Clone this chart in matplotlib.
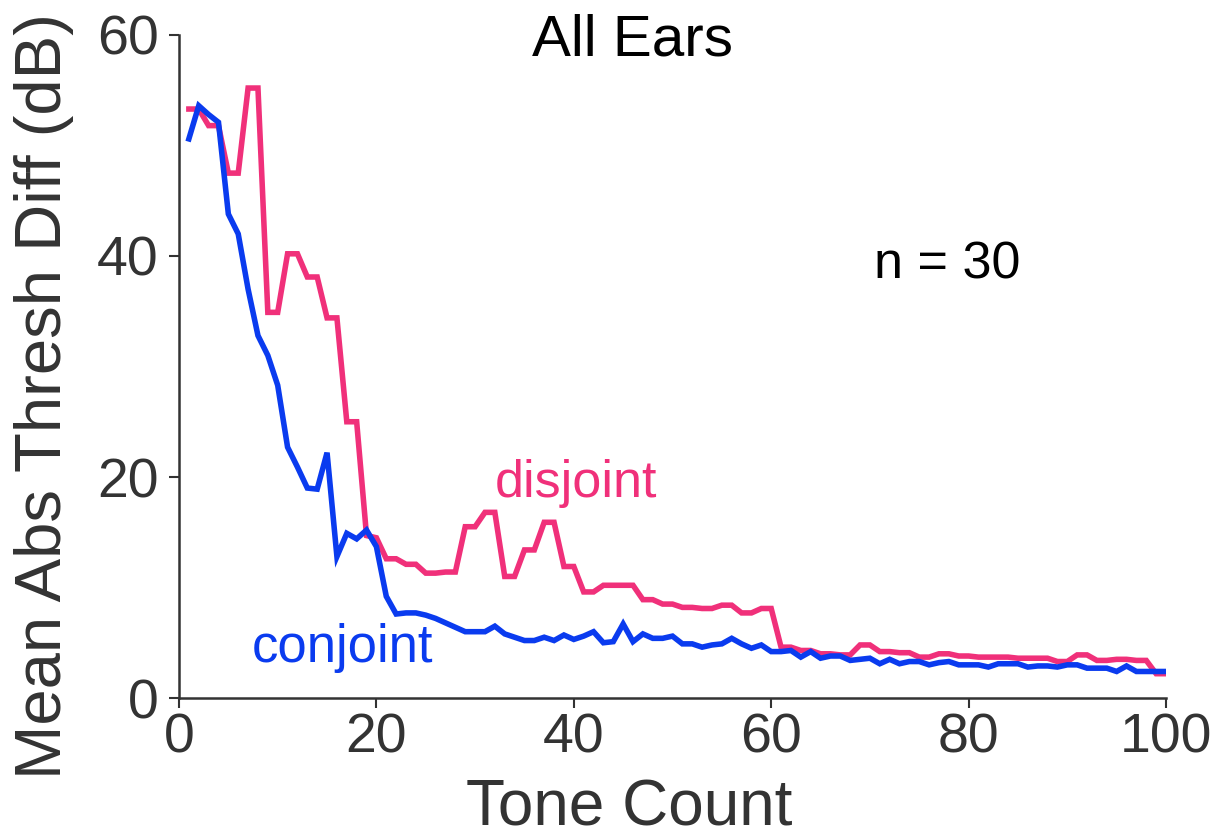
import matplotlib
matplotlib.use("Agg")
import matplotlib.pyplot as plt
import numpy as np

plt.rcParams['font.family'] = ['Liberation Sans', 'DejaVu Sans']

# Tone counts and mean absolute threshold differences (dB)
tone_count = np.arange(1, 101)

disjoint = [
    53.3, 53.3, 51.8, 51.8, 47.5, 47.5, 55.2, 55.2, 34.9, 34.9,
    40.2, 40.2, 38.1, 38.1, 34.4, 34.4, 25.0, 25.0, 14.7, 14.5,
    12.6, 12.6, 12.1, 12.1, 11.3, 11.3, 11.4, 11.4, 15.5, 15.5,
    16.8, 16.8, 11.0, 11.0, 13.4, 13.4, 15.9, 15.9, 11.9, 11.9,
    9.6, 9.6, 10.2, 10.2, 10.2, 10.2, 8.9, 8.9, 8.5, 8.5,
    8.2, 8.2, 8.1, 8.1, 8.4, 8.4, 7.7, 7.7, 8.1, 8.1,
    4.6, 4.6, 4.3, 4.3, 4.0, 4.0, 3.9, 3.9, 4.8, 4.8,
    4.2, 4.2, 4.1, 4.1, 3.7, 3.7, 4.0, 4.0, 3.8, 3.8,
    3.7, 3.7, 3.7, 3.7, 3.6, 3.6, 3.6, 3.6, 3.3, 3.3,
    3.9, 3.9, 3.4, 3.4, 3.5, 3.5, 3.4, 3.4, 2.2, 2.2,
]

conjoint = [
    50.6, 53.6, 52.8, 52.1, 43.8, 42.0, 37.0, 32.8, 31.0, 28.3,
    22.7, 20.9, 19.0, 18.9, 22.2, 12.8, 14.9, 14.4, 15.2, 13.7,
    9.2, 7.6, 7.7, 7.7, 7.5, 7.2, 6.8, 6.4, 6.0, 6.0,
    6.0, 6.5, 5.8, 5.5, 5.2, 5.2, 5.5, 5.2, 5.7, 5.3,
    5.6, 6.0, 5.0, 5.1, 6.7, 5.1, 5.8, 5.4, 5.4, 5.6,
    4.9, 4.9, 4.6, 4.8, 4.9, 5.4, 4.9, 4.5, 4.8, 4.2,
    4.2, 4.3, 3.7, 4.2, 3.6, 3.8, 3.8, 3.4, 3.5, 3.6,
    3.1, 3.5, 3.1, 3.3, 3.3, 3.0, 3.2, 3.3, 3.0, 3.0,
    3.0, 2.8, 3.1, 3.1, 3.1, 2.8, 2.9, 2.9, 2.8, 3.0,
    3.0, 2.7, 2.7, 2.7, 2.4, 2.9, 2.4, 2.4, 2.4, 2.4,
]

x_ticks = [0, 20, 40, 60, 80, 100]
y_ticks = [0, 20, 40, 60]

pink = "#F0307A"
blue = "#0A3BEF"
axis_gray = "#333333"

fig = plt.figure(figsize=(12.28, 8.38), dpi=100)
ax = fig.add_axes([179 / 1228, 1 - 698 / 838, 987 / 1228, 663 / 838])

ax.plot(tone_count, disjoint, color=pink, lw=4.0, solid_joinstyle='miter', zorder=2)
ax.plot(tone_count, conjoint, color=blue, lw=4.0, solid_joinstyle='miter', zorder=3)

ax.set_xlim(0, 100)
ax.set_ylim(0, 60)
ax.set_xticks(x_ticks)
ax.set_yticks(y_ticks)

for side in ("top", "right"):
    ax.spines[side].set_visible(False)
for side in ("left", "bottom"):
    ax.spines[side].set_color(axis_gray)
    ax.spines[side].set_linewidth(1.8)

ax.tick_params(axis='both', direction='out', length=7.5, width=1.5,
               color=axis_gray, labelcolor=axis_gray, labelsize=40)
ax.tick_params(axis='x', pad=3)
ax.tick_params(axis='y', pad=7)

ax.set_xlabel("Tone Count", fontsize=46, color=axis_gray, va='baseline')
ax.xaxis.set_label_coords(0.456, -0.192)
ax.set_ylabel("Mean Abs Thresh Diff (dB)", fontsize=47, color=axis_gray, va='center')
ax.yaxis.set_label_coords(-0.137, 0.456)

ax.text(45.9, 58.1, "All Ears", fontsize=42, color="black",
        ha='center', va='baseline', clip_on=False)
ax.text(77.8, 38.0, "n = 30", fontsize=37.5, color="black",
        ha='center', va='baseline')
ax.text(32.0, 18.2, "disjoint", fontsize=37.5, color=pink,
        ha='left', va='baseline')
ax.text(7.4, 3.3, "conjoint", fontsize=38, color=blue,
        ha='left', va='baseline')

fig.savefig("out.png", dpi=100)
